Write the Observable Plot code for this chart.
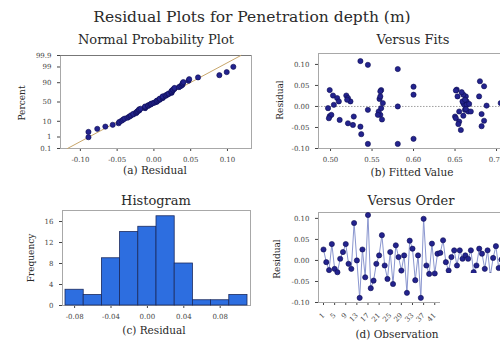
<!DOCTYPE html>
<html><head><meta charset="utf-8">
<script src="https://cdn.jsdelivr.net/npm/d3@7"></script>
<script src="https://cdn.jsdelivr.net/npm/@observablehq/plot@0.6"></script>
<style>
body{margin:0;background:#fff;}
#wrap{position:relative;width:500px;height:341px;overflow:hidden;background:#fff;font-family:"DejaVu Serif",serif;color:#2a2a2a;}
.t{position:absolute;white-space:nowrap;transform:translateX(-50%);line-height:1;}
.v{position:absolute;white-space:nowrap;transform:translate(-50%,-50%) rotate(-90deg);line-height:1;}
.p{position:absolute;}
.p svg{overflow:visible;max-width:none !important;}
#mask{position:absolute;left:440px;top:273px;width:60px;height:68px;background:#fff;}
</style></head><body><div id="wrap"></div>
<script>
// ---- data ----
const residuals = [0.026,-0.004,-0.023,0.039,-0.020,-0.028,0.004,0.020,0.039,-0.008,
  -0.020,0.089,0.000,-0.089,0.026,-0.040,0.108,-0.066,-0.048,-0.008,
  0.012,0.060,-0.012,-0.044,0.020,-0.056,0.036,0.008,-0.024,0.012,
  -0.077,0.047,0.028,-0.047,0.012,-0.089,0.099,-0.012,-0.032,0.040,
  -0.031,0.016,0.018,0.048,-0.004,-0.024,0.008,0.024,-0.012,0.024,
  0.004,0.012,0.004,0.024,-0.028,-0.012,0.028,0.016,-0.020,0.024,
  -0.036,0.006,0.034,-0.018,0.002,-0.042,-0.006,0.038,-0.022,0.008,
  -0.034,-0.002];
const fits = [0.503,0.497,0.499,0.499,0.501,0.498,0.504,0.508,0.561,0.662,
  0.560,0.581,0.581,0.581,0.519,0.521,0.536,0.537,0.536,0.545,
  0.524,0.680,0.655,0.527,0.521,0.657,0.560,0.660,0.528,0.510,
  0.600,0.600,0.600,0.682,0.664,0.545,0.545,0.558,0.511,0.652,
  0.562,0.520,0.559,0.685,0.561,0.650,0.563,0.663,0.666,0.679,
  0.661,0.659,0.664,0.653,0.651,0.669,0.660,0.662,0.557,0.560,
  0.655,0.667,0.658,0.682,0.688,0.654,0.663,0.651,0.660,0.705,
  0.685,0.712];
const histEdges = [-0.09,-0.07,-0.05,-0.03,-0.01,0.01,0.03,0.05,0.07,0.09,0.11];
const histCounts = [3,2,9,14,15,17,8,1,1,2];
const probTicks = [0.1,1,10,50,90,99,99.9];
const residTicks = [-0.10,-0.05,0.00,0.05,0.10];
const fitTicks = [0.50,0.55,0.60,0.65,0.70];
const histXTicks = [-0.08,-0.04,0.00,0.04,0.08];
const freqTicks = [0,4,8,12,16];
const orderTicks = [1,5,9,13,17,21,25,29,33,37,41];

// ---- helpers ----
function probit(p){
 const a=[-3.969683028665376e+01,2.209460984245205e+02,-2.759285104469687e+02,1.383577518672690e+02,-3.066479806614716e+01,2.506628277459239e+00];
 const b=[-5.447609879822406e+01,1.615858368580409e+02,-1.556989798598866e+02,6.680131188771972e+01,-1.328068155288572e+01];
 const c=[-7.784894002430293e-03,-3.223964580411365e-01,-2.400758277161838e+00,-2.549732539343734e+00,4.374664141464968e+00,2.938163982698783e+00];
 const d=[7.784695709041462e-03,3.224671290700398e-01,2.445134137142996e+00,3.754408661907416e+00];
 const pl=0.02425, ph=1-pl; let q,r;
 if(p<pl){q=Math.sqrt(-2*Math.log(p));return (((((c[0]*q+c[1])*q+c[2])*q+c[3])*q+c[4])*q+c[5])/((((d[0]*q+d[1])*q+d[2])*q+d[3])*q+1);}
 if(p>ph){q=Math.sqrt(-2*Math.log(1-p));return -(((((c[0]*q+c[1])*q+c[2])*q+c[3])*q+c[4])*q+c[5])/((((d[0]*q+d[1])*q+d[2])*q+d[3])*q+1);}
 q=p-0.5;r=q*q;return (((((a[0]*r+a[1])*r+a[2])*r+a[3])*r+a[4])*r+a[5])*q/(((((b[0]*r+b[1])*r+b[2])*r+b[3])*r+b[4])*r+1);
}
const wrap = document.getElementById("wrap");
function place(svg, left, top, w, h){ const d=document.createElement("div"); d.className="p"; d.style.left=left+"px"; d.style.top=top+"px"; d.style.width=w+"px"; d.style.height=h+"px"; svg.style.maxWidth="none"; d.appendChild(svg); wrap.appendChild(d); }
function label(text, cls, x, y, size, extra){ const d=document.createElement("div"); d.className=cls; d.textContent=text; d.style.left=x+"px"; d.style.top=y+"px"; d.style.fontSize=size+"px"; if(extra) Object.assign(d.style, extra); wrap.appendChild(d); }
const baseStyle = {fontFamily:"DejaVu Serif", fontSize:"7px", color:"#444", background:"transparent", overflow:"visible"};
const f2 = d => d.toFixed(2);
const DOT = {r:2.6, fill:"#23238e", stroke:"#0e0e52", strokeWidth:0.6};
const FRAME = Plot.frame({stroke:"#a8a8a8"});

// ---- (a) normal probability plot ----
const n = residuals.length;
const sorted = residuals.slice().sort(d3.ascending);
const npp = sorted.map((r,i)=>({r, z: probit((i+1-0.3)/(n+0.4))}));
const mu = d3.mean(residuals), sd = d3.deviation(residuals);
const zLo = probit(probTicks[0]/100), zHi = probit(probTicks[probTicks.length-1]/100);
const fitLine = [zLo, zHi].map(z=>({r: mu+sd*z, z}));
const probZ = probTicks.map(p=>probit(p/100));
place(Plot.plot({
  width:260, height:150, marginLeft:60, marginRight:9, marginTop:25, marginBottom:32,
  style:baseStyle,
  x:{domain:[-0.127,0.1327], ticks:residTicks, tickFormat:f2, tickSize:3, label:null},
  y:{domain:[zLo,zHi], ticks:probZ, tickFormat:z=>String(probTicks[probZ.findIndex(v=>Math.abs(v-z)<1e-9)]), tickSize:3, label:null},
  marks:[FRAME,
    Plot.ruleY([zHi],{stroke:"#777",strokeWidth:1.2}),
    Plot.line(fitLine,{x:"r",y:"z",stroke:"#c8a66a",strokeWidth:1}),
    Plot.dot(npp,{x:"r",y:"z",...DOT})]
}), 0, 30, 260, 150);

// ---- (b) versus fits ----
const vf = residuals.map((r,i)=>({fit:fits[i], r}));
place(Plot.plot({
  width:270, height:152, marginLeft:58, marginRight:4, marginTop:25, marginBottom:32,
  style:baseStyle,
  x:{domain:[0.4855,0.7361], ticks:fitTicks, tickFormat:f2, tickSize:3, label:null},
  y:{domain:[-0.10,0.126], ticks:residTicks, tickFormat:f2, tickSize:3, label:null},
  marks:[FRAME,
    Plot.ruleY([0],{stroke:"#a0a0a0",strokeDasharray:"1.5,1.5"}),
    Plot.dot(vf,{x:"fit",y:"r",...DOT})]
}), 260, 28, 270, 152);

// ---- (c) histogram ----
const hist = histCounts.map((c,i)=>({x1:histEdges[i], x2:histEdges[i+1], c}));
place(Plot.plot({
  width:260, height:150, marginLeft:62, marginRight:10, marginTop:25, marginBottom:30,
  style:baseStyle,
  x:{domain:[-0.0933,0.1133], ticks:histXTicks, tickFormat:f2, tickSize:3, label:null},
  y:{domain:[0,18.1], ticks:freqTicks, tickSize:3, label:null},
  marks:[FRAME,
    Plot.rectY(hist,{x1:"x1",x2:"x2",y:"c",fill:"#2d6ee0",stroke:"#1b2a5e",strokeWidth:0.8})]
}), 0, 185, 260, 150);

// ---- (d) versus order ----
const vo = residuals.map((r,i)=>({obs:i+1, r}));
place(Plot.plot({
  width:270, height:150, marginLeft:58, marginRight:4, marginTop:25, marginBottom:35,
  style:baseStyle,
  x:{domain:[-0.8,74.0], ticks:orderTicks, tickSize:3, tickRotate:-45, label:null},
  y:{domain:[-0.10,0.114], ticks:residTicks, tickFormat:f2, tickSize:3, label:null},
  marks:[FRAME,
    Plot.line(vo,{x:"obs",y:"r",stroke:"#8a96cf",strokeWidth:1}),
    Plot.dot(vo,{x:"obs",y:"r",...DOT})]
}), 260, 187, 270, 150);

// ---- texts ----
label("Residual Plots for Penetration depth (m)","t",252,10,15.5);
label("Normal Probability Plot","t",156,33,13);
label("Versus Fits","t",413,33,13);
label("Histogram","t",156,194,13);
label("Versus Order","t",411,194,13);
label("(a) Residual","t",155,165,10.5);
label("(b) Fitted Value","t",412,167,10.5);
label("(c) Residual","t",154,325,10.5);
label("(d) Observation","t",397,329,10.5);
label("Percent","v",22,103,9);
label("Residual","v",280,100,9);
label("Frequency","v",31,258,9);
label("Residual","v",277,259,9);
const m=document.createElement("div"); m.id="mask"; wrap.appendChild(m);
</script></body></html>
